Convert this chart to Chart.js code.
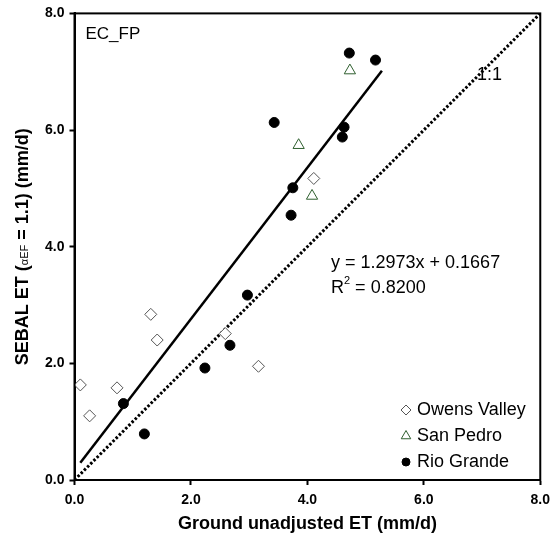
<!DOCTYPE html>
<html>
<head>
<meta charset="utf-8">
<script src="https://cdn.jsdelivr.net/npm/chart.js@4.4.0/dist/chart.umd.min.js"></script>
<style>
  body { margin: 0; background: #fff; }
  #wrap { width: 557px; height: 545px; }
</style>
</head>
<body>
<div id="wrap"><canvas id="et" width="557" height="545"></canvas></div>
<script>
// ground ET (x) vs SEBAL ET (y), mm/d
const owensX = [0.10, 0.26, 0.73, 1.31, 1.42, 2.59, 3.16, 4.11];
const owensY = [1.63, 1.10, 1.58, 2.84, 2.40, 2.51, 1.95, 5.17];
const sanPedroX = [3.85, 4.08, 4.73];
const sanPedroY = [5.74, 4.87, 7.02];
const rioX = [0.84, 1.20, 2.24, 2.67, 2.97, 3.43, 3.72, 3.75, 4.60, 4.63, 4.72, 5.17];
const rioY = [1.31, 0.79, 1.92, 2.31, 3.17, 6.13, 4.54, 5.01, 5.88, 6.05, 7.32, 7.20];

// regression + 1:1 reference
const fitSlope = 1.2973;
const fitIntercept = 0.1667;
const fitR2 = 0.8200;
const fitXRange = [0.1, 5.28];
const oneToOneRange = [0, 8];

const tickValues = [0, 2, 4, 6, 8];
const xTitle = 'Ground unadjusted ET (mm/d)';
const plotLabel = 'EC_FP';

const FONT = 'Arial, "Liberation Sans", sans-serif';

const toPoints = (xs, ys) => xs.map((x, i) => ({ x: x, y: ys[i] }));

const fitLine = fitXRange.map(x => ({ x: x, y: fitSlope * x + fitIntercept }));
const refLine = oneToOneRange.map(v => ({ x: v, y: v }));

const pointSets = [
  {
    label: 'Owens Valley',
    data: toPoints(owensX, owensY),
    pointStyle: 'rectRot',
    pointRadius: 6,
    pointBackgroundColor: '#fff',
    pointBorderColor: '#555',
    pointBorderWidth: 1
  },
  {
    label: 'San Pedro',
    data: toPoints(sanPedroX, sanPedroY),
    pointStyle: 'triangle',
    pointRadius: 6.5,
    pointBackgroundColor: '#fff',
    pointBorderColor: '#2f5f2f',
    pointBorderWidth: 1
  },
  {
    label: 'Rio Grande',
    data: toPoints(rioX, rioY),
    pointStyle: 'circle',
    pointRadius: 5,
    pointBackgroundColor: '#000',
    pointBorderColor: '#000',
    pointBorderWidth: 1
  }
];

// text + legend + frame, drawn on top of the chart
const decorPlugin = {
  id: 'decor',
  afterDraw(chart) {
    const ctx = chart.ctx;
    const a = chart.chartArea;
    ctx.save();

    // frame
    ctx.strokeStyle = '#000';
    ctx.lineWidth = 2;
    ctx.strokeRect(a.left, a.top, a.right - a.left, a.bottom - a.top);

    ctx.fillStyle = '#000';
    ctx.textBaseline = 'middle';
    ctx.textAlign = 'left';

    ctx.font = '17px ' + FONT;
    ctx.fillText(plotLabel, a.left + 11, a.top + 21);
    ctx.font = '18px ' + FONT;
    ctx.fillText('1:1', 477, 75);

    // equation
    ctx.fillText('y = ' + fitSlope.toFixed(4) + 'x + ' + fitIntercept.toFixed(4), 331, 263);
    let rx = 331;
    ctx.fillText('R', rx, 288);
    rx += ctx.measureText('R').width;
    ctx.font = '11px ' + FONT;
    ctx.fillText('2', rx, 281);
    rx += ctx.measureText('2').width;
    ctx.font = '18px ' + FONT;
    ctx.fillText(' = ' + fitR2.toFixed(4), rx, 288);

    // legend (symbols a bit smaller than on the plot)
    const rows = [410, 436, 462];
    pointSets.forEach((ds, i) => {
      ctx.fillStyle = ds.pointBackgroundColor;
      ctx.strokeStyle = ds.pointBorderColor;
      ctx.lineWidth = ds.pointBorderWidth;
      Chart.helpers.drawPoint(ctx, {
        pointStyle: ds.pointStyle,
        rotation: 0,
        radius: ds.pointRadius - 1,
        borderWidth: ds.pointBorderWidth
      }, 406, rows[i]);
      ctx.fillStyle = '#000';
      ctx.font = '18px ' + FONT;
      ctx.fillText(ds.label, 417, rows[i]);
    });

    // x title
    ctx.textAlign = 'center';
    ctx.font = 'bold 18px ' + FONT;
    ctx.fillText(xTitle, (a.left + a.right) / 2, 524);

    // y title with small alpha_EF
    const parts = [
      { t: 'SEBAL ET (', f: 'bold 18px ' + FONT },
      { t: '\u03B1EF', f: '11px ' + FONT },
      { t: ' = 1.1) (mm/d)', f: 'bold 18px ' + FONT }
    ];
    let total = 0;
    parts.forEach(p => { ctx.font = p.f; p.w = ctx.measureText(p.t).width; total += p.w; });
    ctx.translate(22, (a.top + a.bottom) / 2);
    ctx.rotate(-Math.PI / 2);
    ctx.textAlign = 'left';
    ctx.textBaseline = 'alphabetic';
    let px = -total / 2;
    parts.forEach(p => {
      ctx.font = p.f;
      ctx.fillText(p.t, px, 6);
      px += p.w;
    });

    ctx.restore();
  }
};

const axisCommon = {
  type: 'linear',
  min: 0,
  max: 8,
  afterBuildTicks: (scale) => { scale.ticks = tickValues.map(v => ({ value: v })); },
  ticks: {
    color: '#000',
    font: { family: FONT, size: 14, weight: 'bold' },
    callback: (v) => Number(v).toFixed(1)
  },
  grid: {
    drawOnChartArea: false,
    drawTicks: true,
    tickLength: 5,
    tickWidth: 2,
    tickColor: '#000'
  },
  border: { display: true, color: '#000', width: 2 }
};

new Chart(document.getElementById('et'), {
  type: 'scatter',
  data: {
    datasets: pointSets.map(ds => Object.assign({ showLine: false, order: 0 }, ds)).concat([
      {
        label: 'fit',
        data: fitLine,
        showLine: true,
        borderColor: '#000',
        borderWidth: 2.5,
        pointRadius: 0,
        order: 1
      },
      {
        label: '1:1',
        data: refLine,
        showLine: true,
        borderColor: '#000',
        borderWidth: 3,
        borderDash: [2.5, 2],
        pointRadius: 0,
        order: 2
      }
    ])
  },
  options: {
    responsive: false,
    animation: false,
    devicePixelRatio: 1,
    layout: {
      autoPadding: false,
      padding: { top: 12.5, right: 12, left: 0, bottom: 0 }
    },
    plugins: {
      legend: { display: false },
      tooltip: { enabled: false }
    },
    scales: {
      x: Object.assign({}, axisCommon, {
        ticks: Object.assign({}, axisCommon.ticks, { padding: 7 }),
        afterFit: (scale) => { scale.height = 65; }
      }),
      y: Object.assign({}, axisCommon, {
        ticks: Object.assign({}, axisCommon.ticks, { padding: 5 }),
        afterFit: (scale) => { scale.width = 74.5; }
      })
    }
  },
  plugins: [decorPlugin]
});
</script>
</body>
</html>
